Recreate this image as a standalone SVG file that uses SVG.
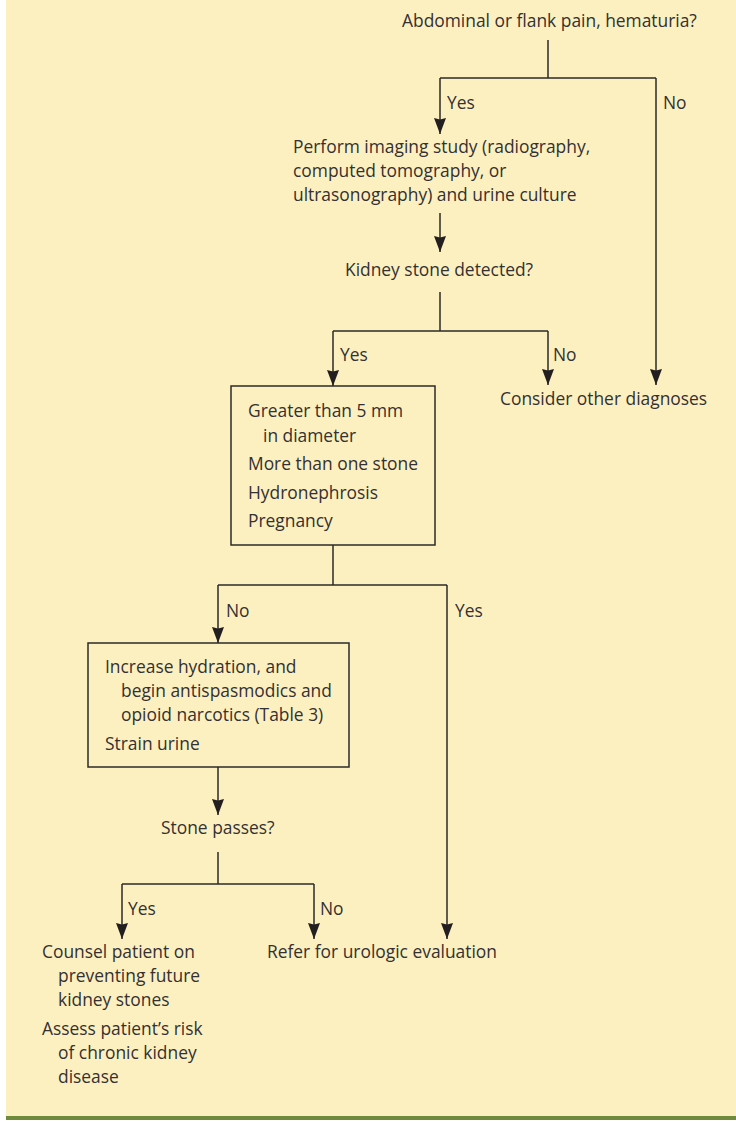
<svg xmlns="http://www.w3.org/2000/svg" width="736" height="1121" viewBox="0 0 736 1121">
<defs>
<style>
text{font-family:"Open Sans","Liberation Sans",sans-serif;font-size:17.4px;fill:#333132}
.ln{stroke:#2b2a2a;stroke-width:1.5;fill:none}
.box{stroke:#2b2a2a;stroke-width:1.5;fill:none}
</style>
<marker id="ah" markerWidth="12" markerHeight="16" refX="6" refY="16" markerUnits="userSpaceOnUse" viewBox="0 0 12 16">
<path d="M0,0 L6,1.5 L12,0 L6,16 Z" fill="#231f20"/>
</marker>
</defs>
<rect x="6" y="0" width="730" height="1117" fill="#fdf0c0"/>
<rect x="6" y="1116" width="730" height="4" fill="#6e8a3a"/>
<g id="connectors">
<path class="ln" d="M548,40 V78 M440,78 H656"/>
<path class="ln" d="M440,78 V134" marker-end="url(#ah)"/>
<path class="ln" d="M656,78 V385" marker-end="url(#ah)"/>
<path class="ln" d="M440,213 V252" marker-end="url(#ah)"/>
<path class="ln" d="M440,292 V331 M333,331 H548"/>
<path class="ln" d="M333,331 V386" marker-end="url(#ah)"/>
<path class="ln" d="M548,331 V385" marker-end="url(#ah)"/>
<path class="ln" d="M333,545 V585 M218,585 H447"/>
<path class="ln" d="M218,585 V643" marker-end="url(#ah)"/>
<path class="ln" d="M447,585 V939" marker-end="url(#ah)"/>
<path class="ln" d="M218,767 V815" marker-end="url(#ah)"/>
<path class="ln" d="M218,852 V884 M122,884 H314"/>
<path class="ln" d="M122,884 V939" marker-end="url(#ah)"/>
<path class="ln" d="M314,884 V939" marker-end="url(#ah)"/>
<text x="447" y="109">Yes</text>
<text x="663" y="109">No</text>
<text x="340" y="361">Yes</text>
<text x="553" y="361">No</text>
<text x="226" y="617">No</text>
<text x="455" y="617">Yes</text>
<text x="128" y="915">Yes</text>
<text x="320" y="915">No</text>
</g>
<g id="n-start"><text x="402" y="27">Abdominal or flank pain, hematuria?</text></g>
<g id="n-imaging">
<text x="293" y="153">Perform imaging study (radiography,</text>
<text x="293" y="177">computed tomography, or</text>
<text x="293" y="201">ultrasonography) and urine culture</text>
</g>
<g id="n-detected"><text x="345" y="276">Kidney stone detected?</text></g>
<g id="n-other"><text x="500" y="405">Consider other diagnoses</text></g>
<g id="n-criteria">
<rect class="box" x="231" y="386" width="204" height="159"/>
<text x="248" y="417">Greater than 5 mm</text>
<text x="263" y="442">in diameter</text>
<text x="248" y="470">More than one stone</text>
<text x="248" y="499">Hydronephrosis</text>
<text x="248" y="527">Pregnancy</text>
</g>
<g id="n-hydration">
<rect class="box" x="88" y="643" width="261" height="124"/>
<text x="105" y="673">Increase hydration, and</text>
<text x="121" y="697">begin antispasmodics and</text>
<text x="121" y="721">opioid narcotics (Table 3)</text>
<text x="105" y="750">Strain urine</text>
</g>
<g id="n-passes"><text x="161" y="834">Stone passes?</text></g>
<g id="n-counsel">
<text x="42" y="958">Counsel patient on</text>
<text x="58" y="982">preventing future</text>
<text x="58" y="1006">kidney stones</text>
<text x="42" y="1035">Assess patient’s risk</text>
<text x="58" y="1059">of chronic kidney</text>
<text x="58" y="1083">disease</text>
</g>
<g id="n-refer"><text x="267" y="958">Refer for urologic evaluation</text></g>
</svg>
